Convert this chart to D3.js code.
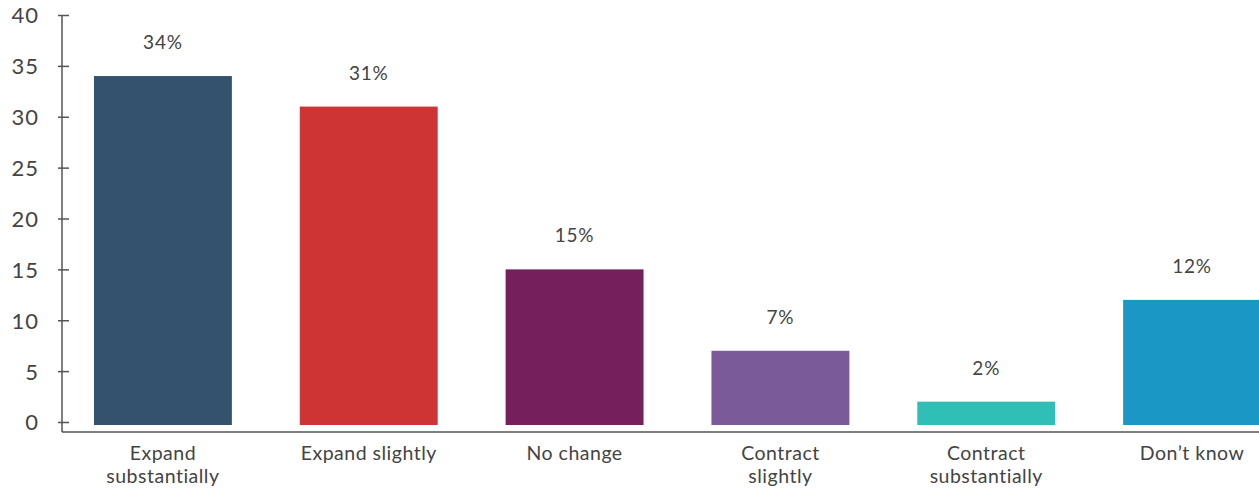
<!DOCTYPE html>
<html>
<head>
<meta charset="utf-8">
<script src="https://cdn.jsdelivr.net/npm/d3@7"></script>
<style>
  html, body { margin: 0; padding: 0; background: #fff; }
  svg { display: block; font-family: Lato, "Open Sans", sans-serif; }
</style>
</head>
<body>
<svg id="chart" width="1259" height="488"></svg>
<script>
// Survey responses: expected change
const categories = ["Expand substantially", "Expand slightly", "No change", "Contract slightly", "Contract substantially", "Don\u2019t know"];
const categoryLines = [["Expand", "substantially"], ["Expand slightly"], ["No change"], ["Contract", "slightly"], ["Contract", "substantially"], ["Don\u2019t know"]];
const values = [34, 31, 15, 7, 2, 12];
const valueLabels = ["34%", "31%", "15%", "7%", "2%", "12%"];
const colors = ["#34526e", "#cd3433", "#751f5d", "#7a5a99", "#2fbfb6", "#1a97c5"];
const yTicks = [0, 5, 10, 15, 20, 25, 30, 35, 40];

const svg = d3.select("#chart");
const textColor = "#444";
const axisColor = "#555";

const axisX = 62;       // y-axis position
const baseY = 432;      // x-axis line position
const barBottom = 425;  // bars stop just above the axis line

const x = d3.scaleBand()
  .domain(categories)
  .range([60, 1295])
  .paddingInner(0.33)
  .paddingOuter(0.165);

const y = d3.scaleLinear().domain([0, 40]).range([422, 15]);

// Y axis with ticks crossing the axis line
const yAxis = d3.axisLeft(y).tickValues(yTicks).tickFormat(d3.format("d")).tickSizeOuter(0);
const gy = svg.append("g").attr("transform", `translate(${axisX},0)`).call(yAxis);
gy.select(".domain").remove();
gy.selectAll(".tick line")
  .attr("x1", -4).attr("x2", 7)
  .attr("stroke", axisColor).attr("stroke-width", 1.5);
gy.selectAll(".tick text")
  .attr("x", -23)
  .attr("dy", "0.36em")
  .attr("fill", textColor)
  .style("font-size", "22px")
  .style("letter-spacing", "1px")
  .style("font-family", "Lato, 'Open Sans', sans-serif");

svg.append("line")
  .attr("x1", axisX).attr("x2", axisX)
  .attr("y1", y(40)).attr("y2", baseY)
  .attr("stroke", axisColor).attr("stroke-width", 1.5);

svg.append("line")
  .attr("x1", axisX).attr("x2", 1259)
  .attr("y1", baseY).attr("y2", baseY)
  .attr("stroke", axisColor).attr("stroke-width", 1.5);

// Bars
svg.append("g").selectAll("rect")
  .data(categories)
  .join("rect")
  .attr("x", d => x(d))
  .attr("width", x.bandwidth())
  .attr("y", (d, i) => y(values[i]))
  .attr("height", (d, i) => barBottom - y(values[i]))
  .attr("fill", (d, i) => colors[i]);

// Value labels
svg.append("g").selectAll("text")
  .data(categories)
  .join("text")
  .attr("x", d => x(d) + x.bandwidth() / 2)
  .attr("y", (d, i) => y(values[i]) - 27)
  .attr("text-anchor", "middle")
  .attr("fill", textColor)
  .style("font-size", "19px")
  .style("letter-spacing", "0.8px")
  .text((d, i) => valueLabels[i]);

// Category labels
const cat = svg.append("g").selectAll("text")
  .data(categories)
  .join("text")
  .attr("x", d => x(d) + x.bandwidth() / 2)
  .attr("y", 460)
  .attr("text-anchor", "middle")
  .attr("fill", textColor)
  .style("font-size", "19.5px")
  .style("letter-spacing", "0.5px");
cat.selectAll("tspan")
  .data((d, i) => categoryLines[i])
  .join("tspan")
  .attr("x", function() { return this.parentNode.getAttribute("x"); })
  .attr("dy", (d, j) => j === 0 ? 0 : 23)
  .text(d => d);
</script>
</body>
</html>
